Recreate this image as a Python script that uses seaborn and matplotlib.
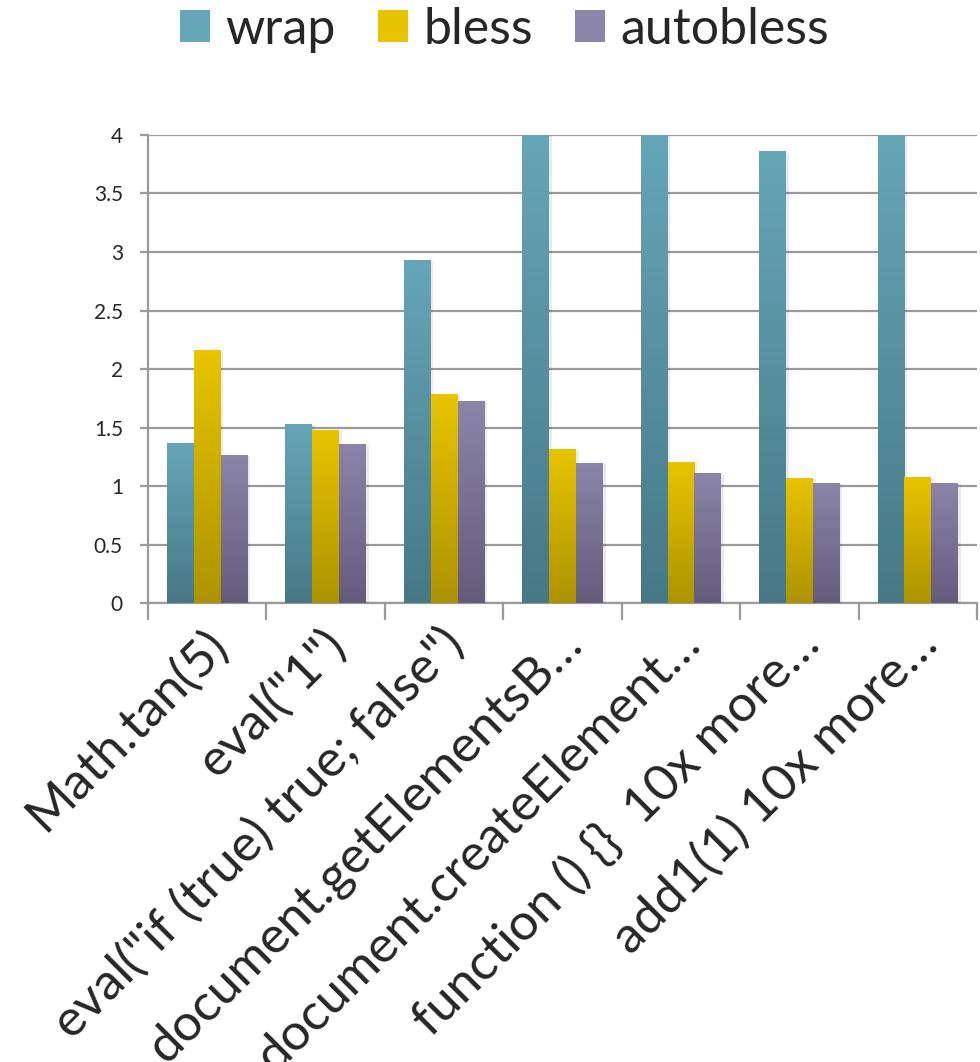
"""
Relative cost of wrap / bless / autobless per JS operation
grouped bar chart, excel look (gradient bars, grey grid)
"""

import numpy as np
import pandas as pd
import seaborn as sns
import matplotlib
matplotlib.use('Agg')
import matplotlib.pyplot as plt
import matplotlib.patheffects as pe
from matplotlib.patches import Patch
from matplotlib.colors import LinearSegmentedColormap
from matplotlib.ticker import FuncFormatter, FixedLocator
from matplotlib.transforms import ScaledTranslation


# data (wrap bars that hit the top are clipped at 4)
operations = ['Math.tan(5)', 'eval("1")', 'eval("if (true) true; false")',
              'document.getElementsB\u2026', 'document.createElement\u2026',
              'function () {}  10x more\u2026', 'add1(1) 10x more\u2026']
wrap = [1.37, 1.53, 2.93, 4.0, 4.0, 3.86, 4.0]
bless = [2.16, 1.48, 1.79, 1.32, 1.21, 1.07, 1.08]
autobless = [1.27, 1.36, 1.73, 1.20, 1.11, 1.03, 1.03]
series = ['wrap', 'bless', 'autobless']
y_ticks = [0, 0.5, 1, 1.5, 2, 2.5, 3, 3.5, 4]

# top / bottom colour of the gradient for each series
grad_colors = {'wrap': ('#65a6b9', '#477886'),
               'bless': ('#e8c400', '#ad9300'),
               'autobless': ('#8b85a9', '#635c7b')}

df = pd.DataFrame({'operation': operations, 'wrap': wrap,
                   'bless': bless, 'autobless': autobless})
df = df.melt(id_vars='operation', value_vars=series,
             var_name='series', value_name='ratio')

sns.set_style('white')
plt.rcParams['font.family'] = ['Lato', 'DejaVu Sans']

fig = plt.figure(figsize=(9.8, 10.62), dpi=100)
ax = fig.add_axes([0.151, 0.432, 0.846, 0.441])

mid = {k: v[0] for k, v in grad_colors.items()}
sns.barplot(data=df, x='operation', y='ratio', hue='series', order=operations,
            hue_order=series, palette=mid, width=0.68, ax=ax, legend=False,
            edgecolor='none', zorder=3)

ax.set_ylim(0, 4)
ax.set_xlim(-0.5, len(operations) - 0.5)

# swap flat fill for a vertical gradient, clipped to each bar
# (bar itself only keeps a soft shadow)
for name, cont in zip(series, ax.containers):
    cmap = LinearSegmentedColormap.from_list(name, [grad_colors[name][1], grad_colors[name][0]])
    for bar in cont:
        x0, y0 = bar.get_x(), bar.get_y()
        w, h = bar.get_width(), bar.get_height()
        grad = np.linspace(0, 1, 256).reshape(-1, 1)
        im = ax.imshow(grad, cmap=cmap, origin='lower', aspect='auto',
                       extent=(x0, x0 + w, y0, y0 + h), zorder=3, interpolation='bicubic')
        im.set_clip_path(bar)
        bar.set_facecolor('none')
        bar.set_path_effects([pe.SimplePatchShadow(offset=(2, -1), shadow_rgbFace='#000000',
                                                   alpha=0.08)])
ax.set_xlim(-0.5, len(operations) - 0.5)
ax.set_ylim(0, 4)

# axes styling
grey = '#9a9a9a'
ax.yaxis.set_major_locator(FixedLocator(y_ticks))
ax.yaxis.set_major_formatter(FuncFormatter(lambda v, p: '%g' % v))
ax.grid(axis='y', color=grey, lw=1.6, zorder=0)
ax.grid(axis='x', visible=False)
for s in ['top', 'right']:
    ax.spines[s].set_visible(False)
for s in ['left', 'bottom']:
    ax.spines[s].set_color(grey)
    ax.spines[s].set_linewidth(1.6)
ax.tick_params(axis='y', which='major', length=6, width=1.6, color=grey,
               pad=12, labelsize=15, left=True)
ax.set_xticks(range(len(operations)))
ax.set_xticks(np.arange(-0.5, len(operations), 1), minor=True)
ax.tick_params(axis='x', which='major', length=0, pad=12)
ax.tick_params(axis='x', which='minor', length=12, width=1.6, color=grey, bottom=True)
ax.set_xticklabels(operations, rotation=45, ha='right', va='top',
                   rotation_mode='anchor', fontsize=37)
shift = ScaledTranslation(-4 / 100, 0, fig.dpi_scale_trans)
for lab in ax.get_xticklabels():
    lab.set_transform(lab.get_transform() + shift)
ax.set_xlabel('')
ax.set_ylabel('')

# legend on top
handles = [Patch(facecolor=grad_colors[s][0], edgecolor='none') for s in series]
fig.legend(handles, series, loc='center', bbox_to_anchor=(0.515, 0.972), ncol=3,
           frameon=False, fontsize=36, handlelength=0.6, handleheight=0.6,
           handletextpad=0.3, columnspacing=0.85)

fig.savefig('out.png', dpi=100)
